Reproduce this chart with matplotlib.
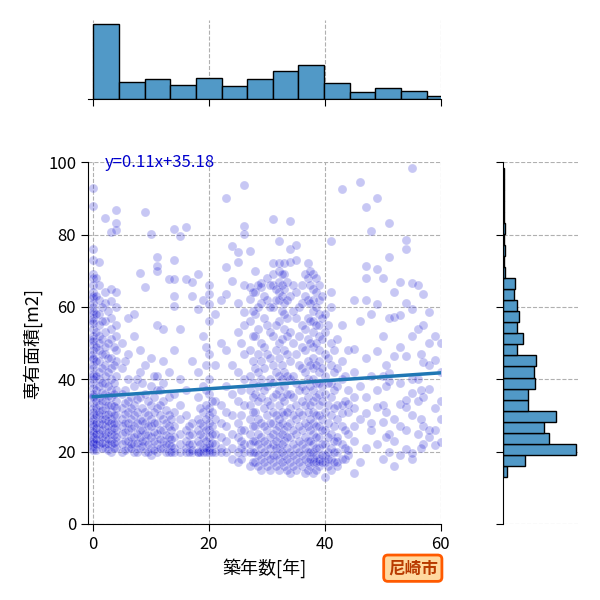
import numpy as np
import matplotlib
matplotlib.use("Agg")
from matplotlib import pyplot as plt

plt.rcParams['font.family'] = ['Noto Sans CJK JP', 'DejaVu Sans']

# building age [years] -> floor areas [m2]
ages_00_04 = {
    0: [93, 88, 76, 73, 69, 68, 66, 64, 62.5, 61, 60, 58, 57, 55.5, 54, 52, 51, 49.5, 48,
        47, 45.5, 44, 43, 41.5, 40, 39, 37.5, 36, 35, 33.5, 32, 31, 30, 28.5, 27.5, 26,
        25, 24, 23, 22, 21.5, 21, 20.5, 29, 27, 25.5, 23.5, 22.5, 35.5, 41, 46, 50.5, 56, 59, 63],
    1: [22, 23, 25, 26, 28, 30, 31, 33, 35, 38, 40, 42, 45, 48, 50, 52, 55, 58, 62, 66, 72.5],
    2: [21, 22, 24, 25, 27, 29, 30, 32, 34, 36, 39, 41, 44, 47, 49, 53, 56, 61, 64, 84.7],
    3: [20, 22, 23, 25, 26, 28, 29, 31, 33, 35, 37, 40, 43, 46, 51, 54, 57, 61.7, 65, 80.6],
    4: [21, 23, 24, 26, 28, 30, 32, 34, 37, 41, 45, 48, 52, 55, 60, 64, 81.3, 83.2, 86.7],
}
ages_05_13 = {
    5: [20, 22, 25, 27, 29, 32, 36, 43, 50],
    6: [21, 23, 26, 28, 31, 34, 40, 47, 57],
    7: [20, 22, 24, 27, 30, 33, 38, 52, 58],
    8: [21, 24, 26, 29, 35, 42, 48, 69.5],
    9: [20, 23, 25, 28, 31, 36, 44, 65.6, 86.2],
    10: [19, 21, 24, 27, 29, 33, 38, 46, 80.1],
    11: [20, 22, 25, 28, 32, 37, 41, 55, 73.7, 69.9, 71.4],
    12: [21, 23, 26, 29, 34, 39, 45, 54],
    13: [20, 22, 24, 27, 30, 35, 42, 67.7],
}
ages_14_22 = {
    14: [19.8, 21, 24, 27, 31, 36, 48, 63, 72.9, 81.5, 60.2, 67.7],
    15: [19.8, 22, 25, 29, 33, 40, 54, 79.6],
    16: [19.8, 21, 23, 26, 30, 37, 67.7, 82.2],
    17: [19.8, 20.5, 22, 25, 28, 45, 67, 63],
    18: [19.8, 20, 23, 26, 29, 35, 42, 59.3, 69],
    19: [19.8, 21, 24, 27, 31, 38, 52, 62],
    20: [19.8, 20.5, 21, 22, 24, 26, 28, 30, 32, 36, 40, 47, 56, 60.8, 63.7, 66],
    21: [19.8, 22, 25, 29, 34, 44, 58],
    22: [19.8, 21, 24, 28, 33, 50, 62],
}
ages_23_30 = {
    23: [19.8, 23, 27, 31, 38, 48, 63.5, 71.1, 90],
    24: [18, 21, 25, 30, 36, 44, 67.2, 76.9],
    25: [17, 20, 24, 28, 34, 42, 53, 61.2, 72.5, 75.3],
    26: [19.8, 22, 26, 33, 40, 47, 55, 58.7, 66, 82.3, 80.1, 93.8],
    27: [16, 19.8, 22, 25, 29, 33, 37, 41, 48, 56, 62.3, 65.4, 75.5],
    28: [17, 20, 23, 27, 31, 36, 43, 52, 58, 64, 70],
    29: [15, 18, 21, 24, 28, 35, 40, 45, 50, 61, 65.4, 66.6],
    30: [16, 19, 22, 26, 30, 34, 38, 47, 55, 62, 68],
}
ages_31_39 = {
    31: [17, 19, 22, 25, 28, 31, 35, 39, 44, 52, 60, 66, 69, 72, 84.4],
    32: [15, 18, 21, 24, 27, 29, 33, 37, 41, 46, 50, 56, 62, 64, 67, 70, 78.2, 72],
    33: [16, 19, 23, 26, 30, 34, 38, 42, 48, 54, 58, 61, 65, 69, 72],
    34: [14, 17, 20, 24, 28, 32, 36, 40, 45, 53, 63, 72.5, 76, 83.7],
    35: [15, 18, 21, 25, 29, 33, 39, 47, 57, 64, 73, 77],
    36: [16, 19, 22, 26, 30, 34, 38, 43, 49, 55, 61, 66],
    37: [15, 17, 20, 23, 27, 31, 35, 40, 45, 51, 57, 62, 68, 72],
    38: [14, 17, 18, 20, 22, 25, 28, 31, 34, 37, 40, 43, 46, 49, 53, 56, 59, 62, 65, 69],
    39: [16, 17.5, 18, 21, 24, 27, 30, 33, 36, 39, 42, 45, 48, 52, 55, 58, 62, 66],
}
ages_40_48 = {
    40: [13, 17, 19, 22, 26, 31, 36, 41, 47, 53, 58],
    41: [15, 18, 21, 25, 30, 35, 39, 44, 50, 60, 64, 78.2],
    42: [16, 17.2, 20, 22.8, 24, 29, 32.8, 38, 43, 51],
    43: [18, 22, 27, 30.7, 33, 40, 45, 55, 92.5],
    44: [19, 20.5, 25, 31, 33.2, 37, 48],
    45: [14, 23, 27, 32, 35, 42, 48.3, 62],
    46: [17, 29, 38, 56, 94.4],
    47: [21, 30.7, 35.2, 46, 62, 67.9, 71.4, 87.5],
    48: [26, 28, 41, 58, 80.9],
}
ages_49_61 = {
    49: [22, 32.4, 37, 47.7, 60.9, 70.4, 90.2],
    50: [18, 28.3, 33, 41, 52, 67.9],
    51: [20, 25, 39.6, 41.8, 57, 73.9, 83.1],
    52: [16, 23, 28.9, 46.3, 57.3, 64],
    53: [19, 27, 33.1, 38.9, 49, 57.7, 66.8],
    54: [20.6, 26, 32.2, 34.3, 46.3, 61, 76, 78.6],
    55: [18, 19.7, 30, 36.1, 40, 52, 59.5, 66.6, 98.3],
    56: [25, 33.9, 40, 53.8, 66.1],
    57: [22, 27, 35, 44.9, 55, 63.7],
    58: [24, 26, 37.2, 44, 50, 58.7],
    59: [21.8, 26, 32, 45.4, 52],
    60: [22.6, 29, 34, 42, 50],
    61: [25, 33],
}
# fractional ages filling the dense parts of the cloud
ages_between = {
    0.5: [20.5, 22, 23.5, 25, 26.5, 28, 30, 32, 34, 37, 41, 45, 49, 53, 58, 63, 68],
    1.5: [21, 22.5, 24, 26, 27.5, 29, 31.5, 34, 36.5, 39, 43, 47, 51, 56, 60],
    2.5: [20.5, 22, 23.5, 25.5, 27, 28.5, 30.5, 33, 35.5, 38, 42, 46, 50, 59],
    3.5: [21, 22.5, 24.5, 26.5, 28, 30, 32.5, 36, 39, 44, 49],
    5.5: [20.5, 23, 25.5, 28, 30.5, 33.5, 37, 45],
    6.5: [21, 22, 24, 26.5, 29, 32, 35],
    7.5: [20, 22.5, 25, 28, 31, 34.5, 40],
    8.5: [21.5, 23, 26, 28.5, 32, 39],
    9.5: [20, 22, 24.5, 27, 30, 34],
    10.5: [20.5, 23, 25.5, 28, 31, 35, 41],
    11.5: [21, 23.5, 26, 30, 33, 37],
    12.5: [20, 22, 24.5, 28, 31.5],
    13.5: [20, 21.5, 23.5, 26, 29],
    16.5: [19.8, 22, 24.5, 27],
    18.5: [20, 22, 25, 28, 32],
    19.5: [19.8, 21, 23, 26, 29, 33, 37, 44, 49],
    20.5: [20, 22.5, 25, 27, 31, 34],
    25.5: [18, 21, 23, 26, 30, 37, 50],
    27.5: [17, 20, 23, 27, 31, 35, 39, 45, 52, 59, 64],
    28.5: [16, 19, 22, 25, 29, 34, 38, 42, 47, 54, 60, 66],
    29.5: [17, 20, 23, 27, 32, 37, 43, 49, 57, 63],
    30.5: [15, 18, 21, 24, 28, 33, 40, 46, 53, 60, 66],
    31.5: [16, 19, 21, 23, 26, 30, 36, 42, 48, 55, 62, 65],
    32.5: [17, 20, 22, 25, 28, 31, 35, 40, 44, 51, 59, 63, 66, 69],
    33.5: [15, 18, 21, 24, 27, 31, 36, 41, 47, 52, 57, 62, 67],
    34.5: [16, 19, 22, 26, 30, 35, 41, 50, 59, 66],
    35.5: [17, 20, 23, 27, 31, 37, 44, 52, 60],
    36.5: [14, 18, 21, 24, 28, 33, 37, 42, 48, 54, 63, 69],
    37.5: [16, 18, 20, 23, 26, 29, 33, 38, 44, 50, 56, 61, 66, 70],
    38.5: [15, 17, 19, 21, 24, 27, 30, 35, 39, 44, 50, 55, 60, 64, 68],
    39.5: [17, 19, 22, 26, 29, 34, 38, 43, 51, 57, 63],
    40.5: [16, 18, 20, 24, 28, 33, 39, 46, 55],
    41.5: [17, 20, 23, 27, 32, 37, 42, 48],
    43.5: [18, 21, 26, 34, 41],
    50.5: [24, 31, 38, 44],
    56.5: [21, 29, 37, 47],
}

# marginal histogram heights (relative counts)
age_counts = [224, 50, 59, 41, 62, 38, 59, 83, 101, 47, 20, 32, 23, 8]
age_range = (0, 62)
area_counts = [14, 67, 219, 140, 125, 161, 77, 77, 98, 95, 101, 43, 61, 43,
               50, 44, 34, 37, 8, 4, 8, 4, 8, 3, 3, 3, 3, 3]
area_range = (13.1, 98.3)

slope, intercept = 0.11, 35.18
city = "尼崎市"

xs, ys = [], []
for group in [ages_00_04, ages_05_13, ages_14_22, ages_23_30, ages_31_39, ages_40_48,
              ages_49_61, ages_between]:
    for age, areas in group.items():
        xs += [age] * len(areas)
        ys += areas

fig = plt.figure(figsize=(6, 6), dpi=100)
ax = fig.add_axes([0.1467, 0.1267, 0.588, 0.603])
ax_top = fig.add_axes([0.1467, 0.835, 0.588, 0.132], sharex=ax)
ax_right = fig.add_axes([0.838, 0.1267, 0.125, 0.603], sharey=ax)

grid_kw = dict(color='#b0b0b0', linestyle='--', linewidth=0.8)

ax.scatter(xs, ys, s=42, color='mediumblue', alpha=0.22, edgecolor='white', linewidth=0.7, zorder=2)
line_x = np.array([min(xs), max(xs)])
ax.plot(line_x, slope * line_x + intercept, color='#1f77b4', linewidth=2.5, zorder=3)
ax.text(2, 100, f"y={slope}x+{intercept}", color='mediumblue', fontsize=12, va='center', ha='left')

ax.set_xlim(-0.9, 60)
ax.set_ylim(0, 100)
ax.set_xticks([0, 20, 40, 60])
ax.set_yticks([0, 20, 40, 60, 80, 100])
ax.grid(True, **grid_kw)
ax.set_axisbelow(True)
ax.spines['top'].set_visible(False)
ax.spines['right'].set_visible(False)
ax.tick_params(labelsize=12, length=5)
ax.set_xlabel("築年数[年]", fontsize=13)
ax.set_ylabel("専有面積[m2]", fontsize=13)

age_edges = np.linspace(age_range[0], age_range[1], len(age_counts) + 1)
ax_top.bar(age_edges[:-1], age_counts, width=np.diff(age_edges), align='edge',
           color='#5199c7', edgecolor='black', linewidth=1, zorder=2)
ax_top.set_ylim(0, 237)
ax_top.grid(True, axis='x', **grid_kw)
ax_top.set_axisbelow(True)
for s in ['top', 'right', 'left']:
    ax_top.spines[s].set_visible(False)
ax_top.tick_params(labelbottom=False, left=False, labelleft=False, length=5)

area_edges = np.linspace(area_range[0], area_range[1], len(area_counts) + 1)
ax_right.barh(area_edges[:-1], area_counts, height=np.diff(area_edges), align='edge',
              color='#5199c7', edgecolor='black', linewidth=1, zorder=2)
ax_right.set_xlim(0, 225)
ax_right.grid(True, axis='y', **grid_kw)
ax_right.set_axisbelow(True)
for s in ['top', 'right', 'bottom']:
    ax_right.spines[s].set_visible(False)
ax_right.tick_params(labelleft=False, bottom=False, labelbottom=False, length=5)

fig.text(0.688, 0.053, city, fontsize=12, fontweight='bold', color='#b83a00',
         ha='center', va='center',
         bbox=dict(boxstyle='round,pad=0.25', facecolor='#ffd9a0', edgecolor='#ff5a00', linewidth=2))

fig.savefig("out.png", dpi=100)
